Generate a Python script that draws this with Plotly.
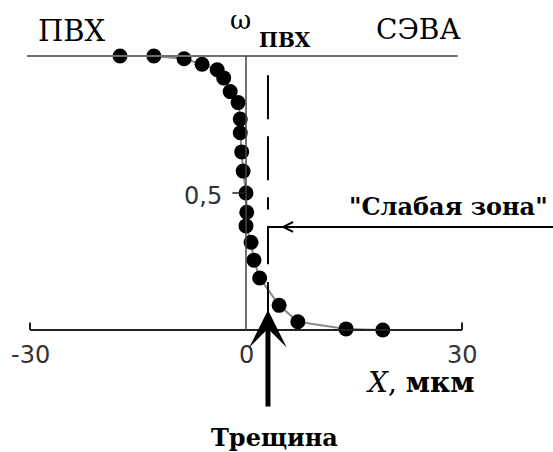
import plotly.graph_objects as go

# Volume fraction of PVC across the PVC / EVA interface
x_um = [-17.5, -12.8, -8.6, -6.1, -4.0, -3.1, -2.2, -1.1, -0.8, -0.8, -0.6,
        -0.4, 0.0, 0.1, 0.0, 0.7, 1.1, 1.9, 4.6, 7.2, 13.9, 19.0]
omega = [1.0, 1.0, 0.99, 0.97, 0.95, 0.92, 0.87, 0.83, 0.77, 0.72, 0.65,
         0.58, 0.50, 0.43, 0.38, 0.32, 0.255, 0.19, 0.09, 0.03, 0.004, 0.0]

x_ticks = [-30, 0, 30]
x_tick_labels = ["-30", "0", "30"]
y_ticks = [0.5]
y_tick_labels = ["0,5"]
crack_x = 3.05          # crack position, um
weak_zone_y = 0.376     # level of the "weak zone" pointer

SERIF = "DejaVu Serif"
SANS = "DejaVu Sans"

fig = go.Figure()

# connecting curve
fig.add_trace(go.Scatter(x=x_um, y=omega, mode="lines",
                         line=dict(color="#8a8a8a", width=2),
                         hoverinfo="skip", showlegend=False))
# data points
fig.add_trace(go.Scatter(x=x_um, y=omega, mode="markers",
                         marker=dict(color="black", size=15, line=dict(width=0)),
                         showlegend=False))

shapes = []
# upper boundary (omega = 1)
shapes.append(dict(type="line", x0=-30.4, x1=29.4, y0=1, y1=1,
                   line=dict(color="#6e6e6e", width=2)))
# X axis with end ticks
shapes.append(dict(type="line", x0=x_ticks[0], x1=x_ticks[-1], y0=0, y1=0,
                   line=dict(color="#222", width=2)))
for xv in (x_ticks[0], x_ticks[-1]):
    shapes.append(dict(type="line", x0=xv, x1=xv, y0=0, y1=0.027,
                       line=dict(color="#222", width=2)))
# vertical axis at X = 0
shapes.append(dict(type="line", x0=0, x1=0, y0=0, y1=1,
                   line=dict(color="#444", width=1.5)))
for yv in y_ticks:
    shapes.append(dict(type="line", x0=-1.9, x1=0, y0=yv, y1=yv,
                       line=dict(color="#222", width=1.5)))
# dashed line above the crack
shapes.append(dict(type="line", x0=crack_x, x1=crack_x, y0=0.93, y1=0.44,
                   line=dict(color="black", width=2, dash="44px,17px")))
# weak-zone bracket
shapes.append(dict(type="line", x0=crack_x, x1=crack_x, y0=0.38, y1=0.24,
                   line=dict(color="black", width=2)))
shapes.append(dict(type="line", x0=crack_x, x1=crack_x, y0=0.175, y1=0.0,
                   line=dict(color="black", width=2)))
shapes.append(dict(type="line", x0=crack_x, x1=45, y0=weak_zone_y, y1=weak_zone_y,
                   line=dict(color="black", width=2)))

ann = []
for xv, lab in zip(x_ticks, x_tick_labels):
    ann.append(dict(x=xv, y=-0.091, text=lab, showarrow=False,
                    font=dict(family=SANS, size=24, color="#333"),
                    xanchor="center", yanchor="middle"))
for yv, lab in zip(y_ticks, y_tick_labels):
    ann.append(dict(x=-3.0, y=yv, text=lab, showarrow=False, yshift=-3,
                    font=dict(family=SANS, size=24, color="#333"),
                    xanchor="right", yanchor="middle"))

ann.append(dict(x=-24.2, y=1.091, text="ПВХ", showarrow=False,
                font=dict(family=SERIF, size=29, color="black")))
ann.append(dict(x=23.9, y=1.095, text="СЭВА", showarrow=False,
                font=dict(family=SERIF, size=28, color="black")))
ann.append(dict(x=-0.7, y=1.13, text="ω", showarrow=False,
                font=dict(family=SERIF, size=26, color="black")))
ann.append(dict(x=5.4, y=1.058, text="<b>ПВХ</b>", showarrow=False,
                font=dict(family=SERIF, size=20, color="black")))
ann.append(dict(x=32.1, y=-0.19, text="<i>X</i>, <b>мкм</b>", showarrow=False,
                xanchor="right", font=dict(family=SERIF, size=28, color="black")))
ann.append(dict(x=42.2, y=0.449, text="<b>\"Слабая зона\"</b>", showarrow=False,
                xanchor="right", font=dict(family=SERIF, size=24, color="black")))
ann.append(dict(x=3.9, y=-0.394, text="<b>Трещина</b>", showarrow=False,
                font=dict(family=SERIF, size=24, color="black")))

# crack arrow
ann.append(dict(x=crack_x, y=0.073, ax=crack_x, ay=-0.285,
                xref="x", yref="y", axref="x", ayref="y", text="",
                showarrow=True, arrowhead=3, arrowsize=1.25, arrowwidth=5,
                arrowcolor="black"))
# weak-zone pointer
ann.append(dict(x=4.86, y=weak_zone_y, ax=9.0, ay=weak_zone_y,
                xref="x", yref="y", axref="x", ayref="y", text="",
                showarrow=True, arrowhead=5, arrowsize=1.3, arrowwidth=1.5,
                arrowcolor="black"))

fig.update_layout(
    width=553, height=452,
    margin=dict(l=0, r=0, t=0, b=0),
    paper_bgcolor="white", plot_bgcolor="white",
    xaxis=dict(range=[-34.17, 42.64], visible=False),
    yaxis=dict(range=[-0.4453, 1.2044], visible=False),
    shapes=shapes, annotations=ann, showlegend=False,
)

fig.write_html("out.html")
